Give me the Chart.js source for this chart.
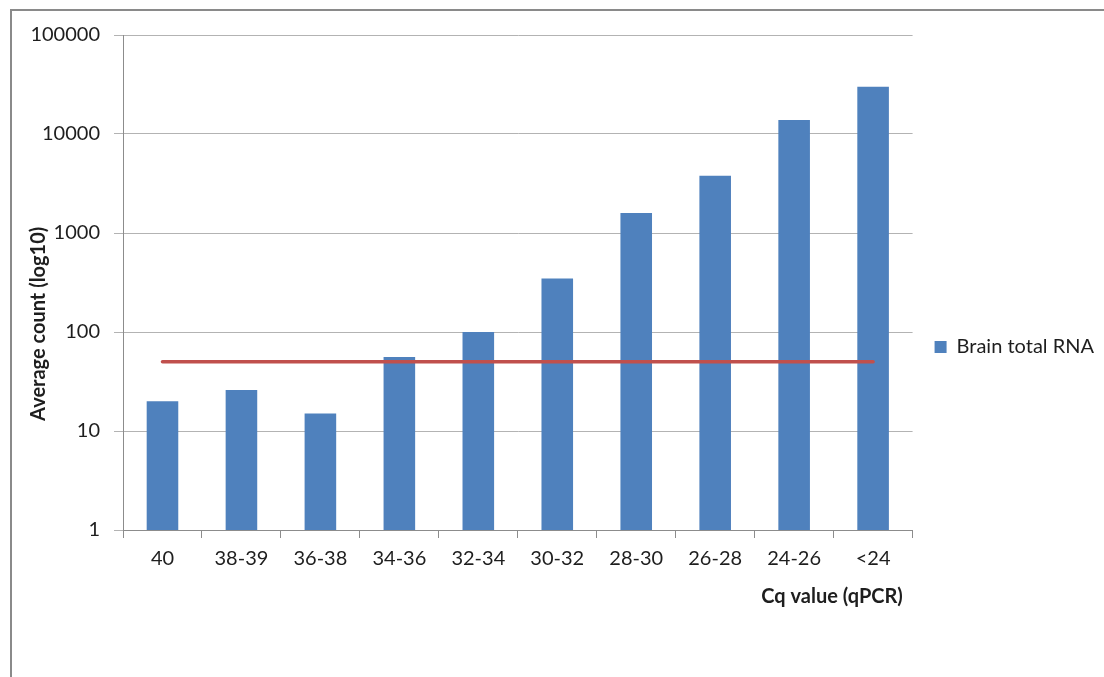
<!DOCTYPE html>
<html>
<head>
<meta charset="utf-8">
<script src="https://cdn.jsdelivr.net/npm/chart.js@4.4.1/dist/chart.umd.min.js"></script>
<style>
  html, body { margin: 0; padding: 0; background: #fff; overflow: hidden; }
  #frame { position: absolute; left: 10px; top: 9px; width: 1300px; height: 900px; border: 2px solid #8a8a8a; }
  #wrap { position: absolute; left: 0; top: 0; width: 1104px; height: 677px; }
</style>
</head>
<body>
<div id="frame"></div>
<div id="wrap"><canvas id="chart" width="1104" height="677"></canvas></div>
<script>
// ── Data ──
const categories = ['40', '38-39', '36-38', '34-36', '32-34', '30-32', '28-30', '26-28', '24-26', '<24'];
const brainCounts = [20, 26, 15, 56, 100, 348, 1590, 3785, 13840, 30000];
const thresholdLine = [50, 50, 50, 50, 50, 50, 50, 50, 50, 50];
const yTicks = [1, 10, 100, 1000, 10000, 100000];

const FONT = 'Lato, "Open Sans", sans-serif';
const TXT = '#1e1e1e';

new Chart(document.getElementById('chart'), {
  data: {
    labels: categories,
    datasets: [
      { type: 'line', label: 'Threshold', data: thresholdLine, order: 1,
        borderColor: '#c0504d', borderWidth: 3.5, borderCapStyle: 'round',
        pointRadius: 0, fill: false, tension: 0 },
      { type: 'bar', label: 'Brain total RNA', data: brainCounts, order: 2,
        backgroundColor: '#4f81bd', barPercentage: 0.4, categoryPercentage: 1 },
    ]
  },
  options: {
    responsive: false, animation: false,
    layout: { padding: { left: 20, top: 35, right: 0, bottom: 18 } },
    plugins: {
      legend: {
        position: 'right', align: 'center',
        labels: {
          color: TXT, font: { family: FONT, size: 20 },
          boxWidth: 12, boxHeight: 12, padding: 22,
          filter: item => item.text === 'Brain total RNA'
        }
      },
      tooltip: { enabled: false }
    },
    scales: {
      x: {
        type: 'category', offset: true,
        grid: { offset: true, drawOnChartArea: false, drawTicks: true, tickLength: 8, color: '#8c8c8c' },
        border: { color: '#8c8c8c', width: 1 },
        ticks: { color: TXT, font: { family: FONT, size: 20 }, padding: 9, maxRotation: 0 },
        title: { display: true, text: 'Cq value (qPCR)  ', align: 'end', color: TXT,
                 font: { family: FONT, size: 20, weight: 'bold' }, padding: { top: 0, bottom: 50 } },
        afterFit: s => { s.height = 129; }
      },
      y: {
        type: 'logarithmic', min: 1, max: 100000,
        afterBuildTicks: s => { s.ticks = yTicks.map(v => ({ value: v })); },
        grid: { color: '#b3b3b3', tickLength: 9, drawTicks: true },
        border: { color: '#8c8c8c', width: 1 },
        ticks: { color: TXT, font: { family: FONT, size: 20 }, padding: 14,
                 callback: v => String(v) },
        title: { display: true, text: 'Average count (log10)                 ', color: TXT,
                 font: { family: FONT, size: 20, weight: 'bold' }, padding: { top: 7, bottom: 0 } },
        afterFit: s => { s.width = 103; }
      }
    }
  }
});
</script>
</body>
</html>
